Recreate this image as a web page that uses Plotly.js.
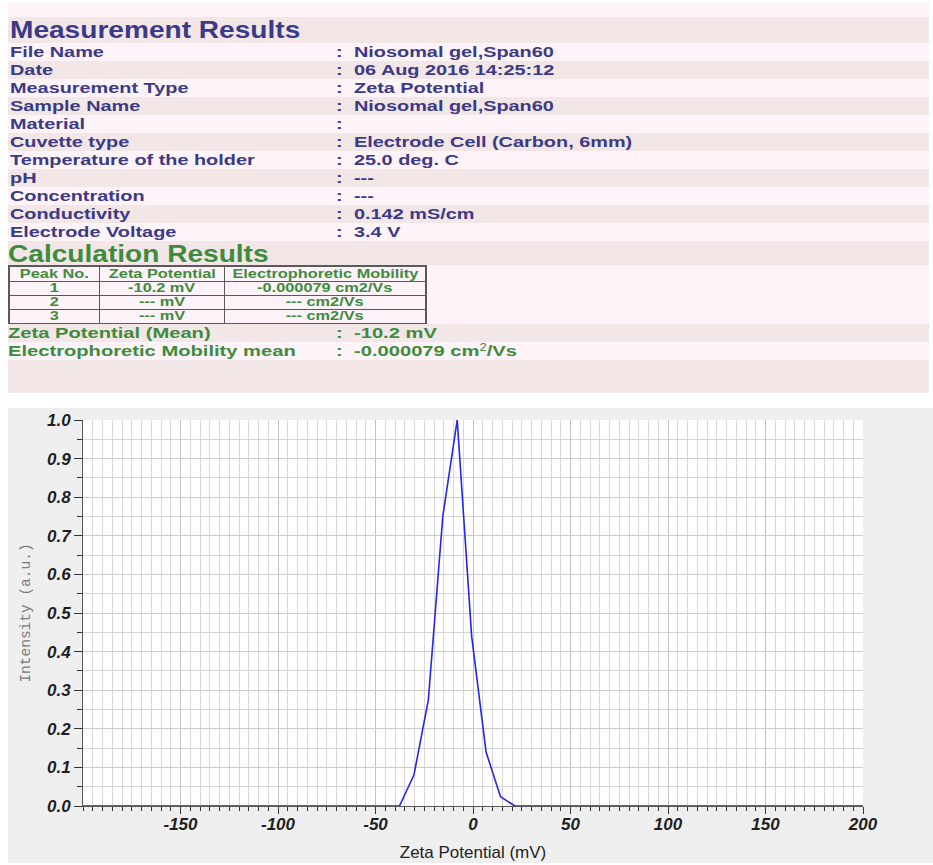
<!DOCTYPE html>
<html><head><meta charset="utf-8">
<script src="https://cdn.plot.ly/plotly-3.0.1.min.js"></script>
<style>
body{margin:0;background:#fff;width:933px;height:865px;position:relative;overflow:hidden;font-family:"Liberation Sans",Arial,sans-serif;}
.row{position:absolute;left:8px;width:921px;}
.lt{background:#fdf3f8;}
.dk{background:#f3e6e6;}
.t{position:absolute;top:0;white-space:nowrap;font-weight:bold;transform-origin:0 50%;display:inline-block;}
table.pk{position:absolute;left:8px;top:265px;border-collapse:collapse;border:2px solid #5a5a5a;background:#fdf3f8;}
table.pk td{border:1px solid #5a5a5a;padding:0;text-align:center;font-weight:bold;color:#3d8b3d;font-size:12px;line-height:13px;height:13px;}
table.pk td span{display:inline-block;transform:scaleX(1.36);transform-origin:50% 50%;white-space:nowrap;}
sup{font-size:10px;font-weight:normal;vertical-align:5px;line-height:0;}
#chart{position:absolute;left:8px;top:408px;width:925px;height:455px;}
</style>
</head><body>
<div id="hdr"></div>
<div id="chart"></div>
<script>
// ---- data ----
const infoLabels = ["File Name","Date","Measurement Type","Sample Name","Material","Cuvette type","Temperature of the holder","pH","Concentration","Conductivity","Electrode Voltage"];
const infoValues = ["Niosomal gel,Span60","06 Aug 2016 14:25:12","Zeta Potential","Niosomal gel,Span60","","Electrode Cell (Carbon, 6mm)","25.0 deg. C","---","---","0.142 mS/cm","3.4 V"];
const tableHeader = ["Peak No.","Zeta Potential","Electrophoretic Mobility"];
const peakNo = ["1","2","3"];
const peakZeta = ["-10.2 mV","--- mV","--- mV"];
const peakMobility = ["-0.000079 cm2/Vs","--- cm2/Vs","--- cm2/Vs"];
const meanLabels = ["Zeta Potential (Mean)","Electrophoretic Mobility mean"];
const meanValues = ["-10.2 mV","-0.000079 cm2/Vs"];

const zetaPotential = [-200, -37.7, -30.3, -22.9, -15.5, -8.1, -0.7, 6.7, 14.1, 21.5, 200];
const intensity     = [0, 0, 0.08, 0.275, 0.75, 1.0, 0.44, 0.14, 0.024, 0, 0];
const xTickVals = [-150, -100, -50, 0, 50, 100, 150, 200];
const xTickText = ["-150", "-100", "-50", "0", "50", "100", "150", "200"];

// ---- header block ----
const BLUE = "#3b3a86", GREEN = "#3d8b3d";
const hdr = document.getElementById("hdr");
function row(y, h, cls){
  const d = document.createElement("div");
  d.className = "row " + cls;
  d.style.top = y + "px"; d.style.height = h + "px";
  hdr.appendChild(d); return d;
}
function txt(parent, s, left, size, color, scale, h, isHtml){
  const sp = document.createElement("span");
  sp.className = "t";
  sp.style.left = left + "px";
  sp.style.fontSize = size + "px";
  sp.style.lineHeight = h + "px";
  sp.style.color = color;
  sp.style.transform = "scaleX(" + scale + ")";
  if (isHtml) sp.innerHTML = s; else sp.textContent = s;
  parent.appendChild(sp);
}
row(3, 14, "lt");
txt(row(17, 26, "dk"), "Measurement Results", 2, 24, BLUE, 1.17, 26);
infoLabels.forEach((lab, i) => {
  const r = row(43 + 18 * i, 18, i % 2 ? "dk" : "lt");
  txt(r, lab, 2, 14.5, BLUE, 1.37, 19);
  txt(r, ":", 328, 14.5, BLUE, 1.37, 19);
  txt(r, infoValues[i], 346, 14.5, BLUE, 1.37, 19);
});
txt(row(241, 24, "dk"), "Calculation Results", 0, 24, GREEN, 1.17, 25);
row(265, 59, "lt");
// peak table
const tb = document.createElement("table");
tb.className = "pk";
const widths = [89, 124, 200];
const rowsData = [tableHeader].concat(peakNo.map((p, i) => [p, peakZeta[i], peakMobility[i]]));
rowsData.forEach((r, ri) => {
  const tr = document.createElement("tr");
  r.forEach((c, ci) => {
    const td = document.createElement("td");
    td.style.width = widths[ci] + "px";
    if (ri === 0) td.style.height = "14px";
    const sp = document.createElement("span"); sp.textContent = c;
    td.appendChild(sp); tr.appendChild(td);
  });
  tb.appendChild(tr);
});
hdr.appendChild(tb);
meanLabels.forEach((lab, i) => {
  const r = row(324 + 18 * i, 18, i % 2 ? "lt" : "dk");
  txt(r, lab, 0, 15.5, GREEN, 1.3, 18);
  txt(r, ":", 328, 15.5, GREEN, 1.3, 18);
  txt(r, meanValues[i].replace("cm2", "cm<sup>2</sup>"), 346, 15.5, GREEN, 1.3, 18, true);
});
row(360, 33, "dk");

// ---- chart ----
const tickFont = {family: "Liberation Sans, Arial, sans-serif", size: 17, color: "#1e1e1e", weight: "bold", style: "italic"};
Plotly.newPlot("chart", [{
  x: zetaPotential, y: intensity, type: "scatter", mode: "lines",
  line: {color: "#2626e8", width: 1.6}, hoverinfo: "skip"
}], {
  width: 925, height: 455,
  margin: {l: 75, r: 70, t: 12, b: 57},
  paper_bgcolor: "#efefef", plot_bgcolor: "#ffffff",
  showlegend: false,
  xaxis: {
    range: [-200, 200], tickmode: "array", tickvals: xTickVals, ticktext: xTickText,
    ticks: "outside", ticklen: 7, tickwidth: 1, tickcolor: "#333",
    showline: true, linecolor: "#555", linewidth: 1, zeroline: false,
    showgrid: true, gridcolor: "#c2c2c2", gridwidth: 1,
    tickfont: tickFont, ticklabelstandoff: -4,
    minor: {tickmode: "linear", tick0: 0, dtick: 5, ticks: "outside", ticklen: 4, tickcolor: "#333", showgrid: true, gridcolor: "#d8d8d8", gridwidth: 1},
    title: {text: "Zeta Potential (mV)", font: {family: "Liberation Sans, Arial, sans-serif", size: 17, color: "#222"}, standoff: 12},
    fixedrange: true
  },
  yaxis: {
    range: [0, 1], tickmode: "linear", tick0: 0, dtick: 0.1, tickformat: ".1f",
    ticks: "outside", ticklen: 8, tickwidth: 1, tickcolor: "#333",
    showline: true, linecolor: "#555", linewidth: 1, zeroline: false,
    showgrid: true, gridcolor: "#cccccc", gridwidth: 1,
    tickfont: tickFont,
    minor: {dtick: 0.05, ticks: "outside", ticklen: 5, tickcolor: "#333", showgrid: true, gridcolor: "#d6d6d6", gridwidth: 1},
    title: {text: "Intensity (a.u.)", font: {family: "Liberation Mono, Courier New, monospace", size: 14.5, color: "#7a7a7a"}, standoff: 12},
    fixedrange: true
  }
}, {staticPlot: true, displayModeBar: false});
</script>
</body></html>
